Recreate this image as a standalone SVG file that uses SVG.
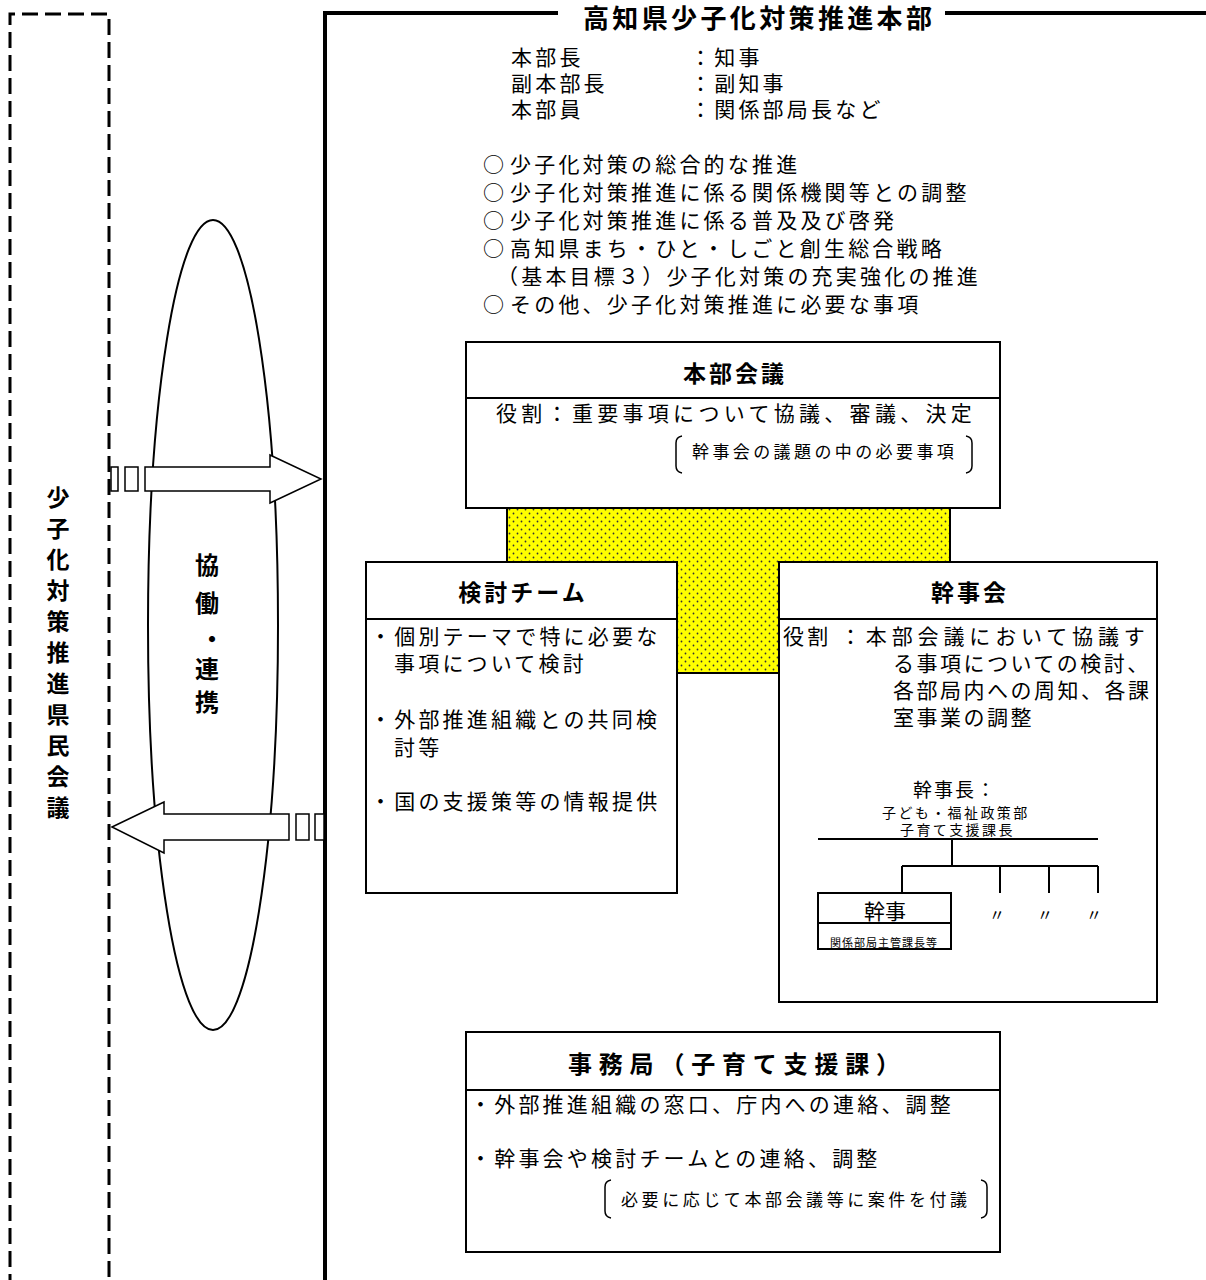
<svg xmlns="http://www.w3.org/2000/svg" width="1206" height="1280" viewBox="0 0 1206 1280">
<style>
text{font-family:"Noto Sans CJK JP","Noto Sans CJK SC",sans-serif;fill:#000}
.t{font-size:21px;letter-spacing:3.2px}
.h{font-size:23px;font-weight:bold;letter-spacing:3px}
.s{font-size:17px;letter-spacing:3.4px}
.box{fill:#fff;stroke:#000;stroke-width:2}
.ln{stroke:#000;stroke-width:2;fill:none}
.arr{fill:#fff;stroke:#000;stroke-width:1.5}
.br{fill:none;stroke:#000;stroke-width:1.5}
</style>
<defs>
<pattern id="dots" width="8" height="8" patternUnits="userSpaceOnUse">
<rect width="8" height="8" fill="#ffff00"/>
<circle cx="1.5" cy="1.5" r="0.9" fill="#333"/>
<circle cx="5.5" cy="5.5" r="0.9" fill="#333"/>
</pattern>
</defs>
<rect width="1206" height="1280" fill="#fff"/>

<g id="kenmin-kaigi">
<path d="M10,1290 V14 H109 V1290" fill="none" stroke="#000" stroke-width="3" stroke-dasharray="16 7"/>
<g text-anchor="middle" style="font-size:23px;font-weight:bold">
<text x="58" y="506">少</text><text x="58" y="537">子</text><text x="58" y="568">化</text><text x="58" y="599">対</text><text x="58" y="630">策</text><text x="58" y="661">推</text><text x="58" y="692">進</text><text x="58" y="723">県</text><text x="58" y="754">民</text><text x="58" y="785">会</text><text x="58" y="816">議</text>
</g>
</g>

<g id="kyodo">
<ellipse cx="213" cy="625" rx="65" ry="405" fill="#fff" stroke="#000" stroke-width="2"/>
<g text-anchor="middle" style="font-size:24px;font-weight:bold">
<text x="207" y="574">協</text><text x="207" y="612">働</text><text x="212" y="648">・</text><text x="207" y="678">連</text><text x="207" y="711">携</text>
</g>
</g>

<g id="honbu-frame">
<path d="M325,1290 V13 H558 M945,13 H1206" fill="none" stroke="#000" stroke-width="4"/>
<text x="583" y="28" style="font-size:26px;font-weight:bold" textLength="349" lengthAdjust="spacing">高知県少子化対策推進本部</text>
<g class="t">
<text x="511" y="65">本部長</text><text x="690" y="65">：知事</text>
<text x="511" y="91">副本部長</text><text x="690" y="91">：副知事</text>
<text x="511" y="117">本部員</text><text x="690" y="117">：関係部局長など</text>
<text x="483" y="172">○</text><text x="510" y="172">少子化対策の総合的な推進</text>
<text x="483" y="200">○</text><text x="510" y="200">少子化対策推進に係る関係機関等との調整</text>
<text x="483" y="228">○</text><text x="510" y="228">少子化対策推進に係る普及及び啓発</text>
<text x="483" y="256">○</text><text x="510" y="256">高知県まち・ひと・しごと創生総合戦略</text>
<text x="497" y="284">（基本目標３）少子化対策の充実強化の推進</text>
<text x="483" y="312">○</text><text x="510" y="312">その他、少子化対策推進に必要な事項</text>
</g>
</g>

<g id="yellow-link">
<polygon points="507,508 950,508 950,562 779,562 779,673 677,673 677,562 507,562" fill="url(#dots)" stroke="#000" stroke-width="2"/>
</g>

<g id="honbu-kaigi">
<rect class="box" x="466" y="342" width="534" height="166"/>
<line class="ln" x1="466" y1="398" x2="1000" y2="398"/>
<text class="h" x="735" y="382" text-anchor="middle">本部会議</text>
<text class="t" x="496" y="421" textLength="479" lengthAdjust="spacing">役割：重要事項について協議、審議、決定</text>
<path class="br" d="M682,436 Q676,437 676,443 V466 Q676,472 682,473 M966,436 Q972,437 972,443 V466 Q972,472 966,473"/>
<text class="s" x="692" y="458">幹事会の議題の中の必要事項</text>
</g>

<g id="kento-team">
<rect class="box" x="366" y="562" width="311" height="331"/>
<line class="ln" x1="366" y1="619" x2="677" y2="619"/>
<text class="h" x="523" y="601" text-anchor="middle">検討チーム</text>
<g class="t">
<text x="370" y="644">・個別テーマで特に必要な</text>
<text x="394" y="671">事項について検討</text>
<text x="370" y="727">・外部推進組織との共同検</text>
<text x="394" y="755">討等</text>
<text x="370" y="809">・国の支援策等の情報提供</text>
</g>
</g>

<g id="kanjikai">
<rect class="box" x="779" y="562" width="378" height="440"/>
<line class="ln" x1="779" y1="619" x2="1157" y2="619"/>
<text class="h" x="970" y="601" text-anchor="middle">幹事会</text>
<g class="t">
<text x="783" y="644">役割</text>
<text x="840" y="644" textLength="308" lengthAdjust="spacing">：本部会議において協議す</text>
<text x="893" y="671" style="letter-spacing:2.5px">る事項についての検討、</text>
<text x="893" y="698" style="letter-spacing:2.5px">各部局内への周知、各課</text>
<text x="893" y="725" style="letter-spacing:2.5px">室事業の調整</text>
</g>
<text x="913" y="797" style="font-size:19px;letter-spacing:2px">幹事長：</text>
<text x="882" y="818" style="font-size:14px;letter-spacing:2.4px">子ども・福祉政策部</text>
<text x="900" y="835" style="font-size:14px;letter-spacing:2.4px">子育て支援課長</text>
</g>

<g id="kanji">
<rect class="box" x="818" y="893" width="133" height="56"/>
<line class="ln" x1="818" y1="923" x2="951" y2="923"/>
<text x="885" y="919" text-anchor="middle" style="font-size:21px">幹事</text>
<text x="884" y="947" text-anchor="middle" style="font-size:11px;letter-spacing:1px">関係部局主管課長等</text>
<g text-anchor="middle" style="font-size:16px">
<text x="997" y="921">〃</text><text x="1045" y="921">〃</text><text x="1094" y="921">〃</text>
</g>
</g>

<g id="jimukyoku">
<rect class="box" x="466" y="1032" width="534" height="220"/>
<line class="ln" x1="466" y1="1090" x2="1000" y2="1090"/>
<text x="568" y="1073" style="font-size:24px;font-weight:bold" textLength="332" lengthAdjust="spacing">事務局（子育て支援課）</text>
<g class="t">
<text x="470" y="1112">・外部推進組織の窓口、庁内への連絡、調整</text>
<text x="470" y="1166">・幹事会や検討チームとの連絡、調整</text>
</g>
<path class="br" d="M611,1180 Q605,1181 605,1187 V1211 Q605,1217 611,1218 M981,1180 Q987,1181 987,1187 V1211 Q987,1217 981,1218"/>
<text x="621" y="1206" style="font-size:17px" textLength="346" lengthAdjust="spacing">必要に応じて本部会議等に案件を付議</text>
</g>

<g id="connectors">
<path class="ln" d="M818,839 H1098 M952,839 V866 M902,866 H1098 M902,866 V893 M1000,866 V893 M1049,866 V893 M1098,866 V893"/>
<rect class="arr" x="111" y="467" width="7" height="24"/>
<rect class="arr" x="125" y="467" width="13" height="24"/>
<polygon class="arr" points="145,467 270,467 270,455 321,479 270,503 270,491 145,491"/>
<polygon class="arr" points="112,827 164,802 164,814 289,814 289,840 164,840 164,853"/>
<rect class="arr" x="296" y="814" width="13" height="26"/>
<rect class="arr" x="315" y="814" width="9" height="26"/>
</g>
</svg>
